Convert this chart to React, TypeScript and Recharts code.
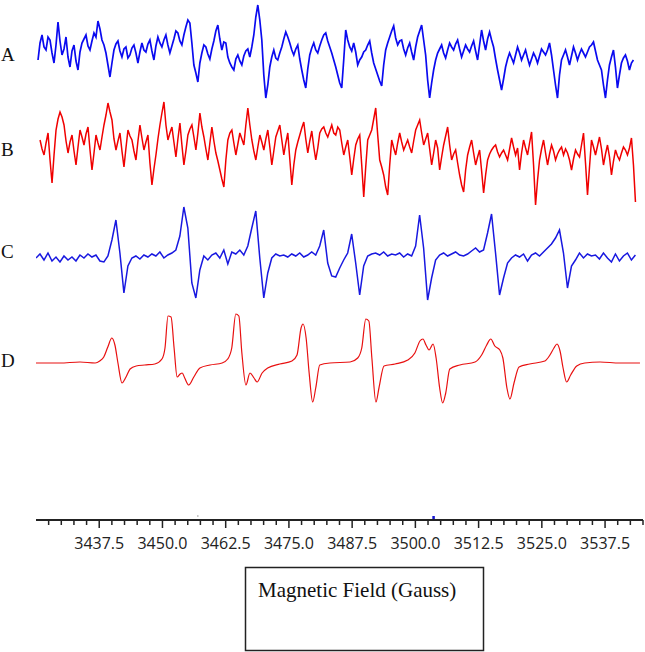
import React from "react";
import { LineChart, Line, XAxis, YAxis, ReferenceLine, ReferenceDot } from "recharts";

// ---------- axis ----------
const FIELD_MIN = 3425;
const FIELD_MAX = 3545;
const majorTicks = [3437.5, 3450.0, 3462.5, 3475.0, 3487.5, 3500.0, 3512.5, 3525.0, 3537.5];
const minorStep = 2.5;
const firstMinor = 3427.5;

// ---------- spectra (intensity, arbitrary units, up = positive) ----------
// uniformly sampled traces: start field (G), field step (G)
const aStart = 3425.4;
const bStart = 3425.8;
const cStart = 3425.0;
const fineStep = 0.395;
const coarseStep = 0.79;

const traceA = [
  -5, 12, 20, 8, 5, 18, 15, 2, -8, 10, 33, 14, 0, 6, 18, -2, -12, 4, 10, -6, -15, 3, 12, 16, 20, 9, 5, 14, 22, 18, 34, 26, 15, 10, 2, -10, -22, -8, 5, 11,
  14, 4, -2, 6, 8, -3, 0, 7, 10, 2, -8, 3, 12, 5, 3, 11, 15, 4, -5, 9, 18, 12, 8, 15, 20, 10, 2, 9, 16, 24, 22, 14, 10, 20, 28, 35, 32, 12, -10, -18,
  -27, -8, 2, 10, 8, 1, -4, 6, 14, 24, 30, 16, 5, 13, 12, -2, -8, -12, -15, -4, 0, -6, -10, -1, 4, 6, -2, 8, 20, 38, 50, 35, 15, -20, -43, -30, -12, -2, 5, -3,
  -5, 2, 8, 16, 23, 18, 12, 5, 0, 6, 10, -4, -15, -25, -33, -14, 0, 7, 12, 5, 2, 9, 15, 20, 22, 14, 8, 2, -5, -12, -20, -28, -33, -5, 25, 15, 8, 4, 12, 3,
  -10, -5, -2, 3, 5, 10, 14, 2, -8, -14, -20, -26, -31, -10, 5, 12, 18, 24, 29, 17, 10, 14, 15, 6, 0, 7, 12, 3, -5, 8, 18, 24, 30, 15, 0, -25, -43, -28, -15, -5,
  2, 6, 10, 2, -3, 5, 12, 8, 5, 11, 15, 6, -2, 4, 10, 6, 3, 9, 14, 4, -5, 10, 25, 14, 5, 16, 23, 15, 8, -4, -15, -25, -35, -24, -12, -4, 2, -3, -8, 0,
  8, 2, -5, 0, 5, -3, -10, -4, 2, -2, -8, -1, 6, 3, 0, 5, 12, 0, -15, -30, -43, -20, -5, 0, 5, -2, -10, -1, 8, 2, -5, 1, 6, 2, -2, 3, 8, 10, 13, 4,
  -5, -10, -15, -30, -43, -25, -10, -2, 5, -12, -33, -20, -8, -3, 0, -6, -15, -8, -5,
];

const traceB = [
  5, -4, -10, 2, 12, -15, -38, -10, 15, 26, 33, 28, 20, 4, -8, 3, 10, -6, -20, -2, 15, 8, 0, 11, 18, -5, -25, -8, 10, 2, -5, 8, 20, 30, 42, 33, 25, 6, -5, 4,
  12, -6, -22, -3, 15, 9, 5, -6, -15, 4, 20, 7, -5, 3, 10, -18, -40, -24, -10, 6, 20, 32, 43, 20, 5, 12, 18, 3, -12, 6, 22, 0, -20, -6, 10, 16, 20, 8, -5, 12,
  32, 18, 8, -4, -15, 2, 18, 4, -8, -16, -25, -34, -42, -15, 5, 12, 15, 2, -10, 1, 12, 6, 0, 20, 37, 20, 5, -6, -15, -2, 10, 3, -5, 6, 15, -2, -20, -6, 8, 14,
  20, 5, -10, 2, 12, -14, -40, -20, -5, 3, 10, 17, 23, 6, -8, 4, 14, -2, -15, -3, 12, 16, 18, 12, 8, 14, 20, 12, 10, 18, 15, 2, -10, -2, 5, -12, -30, -14, 0, 6,
  10, -20, -52, -22, 5, 10, 15, 26, 37, 10, -15, -22, -30, -42, -50, -20, 5, -3, -10, 2, 12, 3, -5, 0, 5, -2, -8, 4, 15, 20, 25, 12, 0, 6, 12, -4, -20, -8, 5, -3,
  -25, -12, 0, 9, 18, 0, -15, -9, -5, -18, -30, -40, -47, -25, -10, -2, 5, -8, -20, -12, -5, -26, -48, -30, -15, -9, -5, -2, 0, -7, -12, -8, -5, -10, -15, -4, 7, -2, -10, -3,
  -25, -8, 5, -3, -10, 2, 13, -20, -60, -35, -15, -4, 5, -8, -20, -9, 0, -6, -15, -9, -5, -2, -10, -4, -8, -15, -25, -14, -5, -9, -12, 0, 12, -18, -50, -22, 5, -2, -10, -1,
  8, -4, -20, -9, 0, -12, -30, -16, -5, -11, -15, -8, -2, -5, -10, -3, 7, -20, -57,
];

const traceC = [
  0, 4, -2, 5, -3, 1, -4, 2, -2, 1, -3, 3, 0, 4, 1, 3, -3, -4, 2, 18,
  38, 5, -35, -8, 0, 2, -1, 3, 1, 4, 2, 6, 0, 3, 5, 8, 22, 51, 30, -25,
  -40, -12, 2, -2, 3, 5, 0, 8, -6, 6, 4, 8, 3, 12, 30, 47, 0, -40, -15, 0,
  4, 2, 3, 1, 4, 2, 5, 1, 3, 6, 3, 12, 28, -5, -18, -19, -10, -2, 5, 24,
  -5, -37, -8, 2, 4, 5, 3, 6, 2, 4, 3, 5, 1, 4, 2, 12, 43, 10, -42, -20,
  -2, 3, 5, 2, 4, 6, 3, 2, 4, 7, 10, 6, 8, 25, 44, 5, -37, -20, -5, 0,
  3, 1, 4, -3, 3, 5, 2, 6, 10, 14, 20, 28, 5, -30, -8, -2, 5, 0, 4, 2,
  3, -1, 5, 0, -4, 4, -3, 2, 5, -2, 3,
];

// trace D: non-uniform sampling (field in G, intensity)
const dField = [
  3425.0, 3429.7, 3433.7, 3436.7, 3437.6, 3438.4, 3439.2, 3440.0, 3440.6, 3441.2,
  3442.0, 3442.8, 3443.6, 3444.8, 3446.5, 3448.5, 3449.9, 3450.5, 3451.1, 3451.7,
  3452.3, 3452.9, 3453.5, 3453.9, 3454.4, 3455.2, 3456.2, 3457.4, 3459.4, 3461.8,
  3462.9, 3463.7, 3464.5, 3465.1, 3465.7, 3466.5, 3467.3, 3468.1, 3468.7, 3469.7,
  3470.8, 3473.2, 3475.6, 3476.6, 3477.4, 3477.8, 3478.4, 3479.0, 3479.7, 3480.3,
  3481.1, 3483.1, 3487.1, 3488.6, 3489.4, 3490.2, 3490.8, 3491.4, 3492.2, 3492.8,
  3493.8, 3496.0, 3498.5, 3499.9, 3500.9, 3501.5, 3502.1, 3502.7, 3503.5, 3504.1,
  3504.8, 3505.4, 3506.0, 3506.8, 3508.8, 3511.8, 3513.1, 3514.1, 3514.9, 3515.7,
  3516.7, 3517.3, 3518.1, 3518.7, 3519.5, 3520.5, 3522.6, 3525.6, 3526.6, 3527.4,
  3528.0, 3528.6, 3529.2, 3529.9, 3530.7, 3531.9, 3533.5, 3536.5, 3540.4, 3544.4,
];
const dSignal = [
  0, 0, 1, 0, 2, 6, 16, 25, 18, 0,
  -20, -14, -6, -3, -2, -1, 4, 15, 47, 46,
  15, -14, -11, -10, -15, -22, -14, -5, -2, 0,
  4, 15, 49, 47, 10, -22, -10, -15, -19, -10,
  -5, -1, 2, 8, 35, 39, 25, -10, -39, -25,
  -2, 0, 1, 5, 15, 44, 42, 5, -39, -25,
  -3, -1, 3, 10, 22, 24, 18, 13, 19, 5,
  -25, -40, -30, -6, -2, 1, 8, 18, 24, 17,
  13, 5, -25, -36, -20, -4, -1, 2, 8, 15,
  19, 12, -5, -19, -12, -3, 0, 1, 0, 0,
];

const traceLabels = ["A", "B", "C", "D"];
const axisTitle = "Magnetic Field (Gauss)";

// vertical placement of each trace (stacked display offsets)
const offsets = { A: 465, B: 375, C: 262, D: 157 };

const buildUniform = (vals: number[], start: number, step: number, off: number) =>
  vals.map((v, i) => ({ f: +(start + i * step).toFixed(3), v: v + off }));

const dataA = buildUniform(traceA, aStart, fineStep, offsets.A);
const dataB = buildUniform(traceB, bStart, fineStep, offsets.B);
const dataC = buildUniform(traceC, cStart, coarseStep, offsets.C);
const dataD = dField.map((f, i) => ({ f, v: dSignal[i] + offsets.D }));

const allTicks: number[] = [];
for (let t = firstMinor; t <= FIELD_MAX + 1e-6; t += minorStep) allTicks.push(+t.toFixed(2));

const isMajor = (v: number) => majorTicks.some((m) => Math.abs(m - v) < 1e-6);

const FieldTick = (props: any) => {
  const { x, y, payload } = props;
  const v = payload.value as number;
  const major = isMajor(v);
  return (
    <g>
      <line x1={x} x2={x} y1={y} y2={y + (major ? 8 : 5)} stroke="#222" strokeWidth={1.5} />
      {major && (
        <text
          x={x}
          y={y + 29}
          textAnchor="middle"
          fontFamily="'Open Sans', sans-serif"
          fontSize={16}
          fill="#222"
        >
          {v.toFixed(1)}
        </text>
      )}
    </g>
  );
};

const labelY = [61, 156, 258, 367];

export default function App() {
  return (
    <div style={{ position: "absolute", left: 0, top: 0, width: 645, height: 652, background: "#fff" }}>
      <LineChart width={645} height={560} margin={{ top: 0, right: 2, left: 36, bottom: 0 }}>
        <XAxis
          type="number"
          dataKey="f"
          domain={[FIELD_MIN, FIELD_MAX]}
          allowDataOverflow
          ticks={allTicks}
          interval={0}
          tick={<FieldTick />}
          tickLine={false}
          tickSize={0}
          tickMargin={0}
          height={40}
          axisLine={{ stroke: "#222", strokeWidth: 2 }}
        />
        <YAxis type="number" hide width={0} domain={[0, 520]} allowDataOverflow />
        <Line data={dataA} dataKey="v" stroke="#0a0af0" strokeWidth={1.7} dot={false} isAnimationActive={false} type="linear" />
        <Line data={dataB} dataKey="v" stroke="#f00000" strokeWidth={1.5} dot={false} isAnimationActive={false} type="linear" />
        <Line data={dataC} dataKey="v" stroke="#1818e0" strokeWidth={1.5} dot={false} isAnimationActive={false} type="linear" />
        <Line data={dataD} dataKey="v" stroke="#e81010" strokeWidth={1.2} dot={false} isAnimationActive={false} type="monotone" />
        <ReferenceLine segment={[{ x: 3503.6, y: 0 }, { x: 3503.6, y: 4 }]} stroke="#1515d0" strokeWidth={2.5} />
        <ReferenceDot x={3457.0} y={4} r={0.8} fill="#999" stroke="none" />
      </LineChart>
      <svg width={645} height={652} style={{ position: "absolute", left: 0, top: 0, pointerEvents: "none" }}>
        {traceLabels.map((t, i) => (
          <text key={t} x={1} y={labelY[i]} fontFamily="'Liberation Serif', serif" fontSize={19} fill="#111">
            {t}
          </text>
        ))}
        <rect x={245.5} y={567.5} width={238} height={83} fill="none" stroke="#222" strokeWidth={1.5} />
        <text x={258} y={597} fontFamily="'Liberation Serif', serif" fontSize={21} fill="#111">
          {axisTitle}
        </text>
      </svg>
    </div>
  );
}
